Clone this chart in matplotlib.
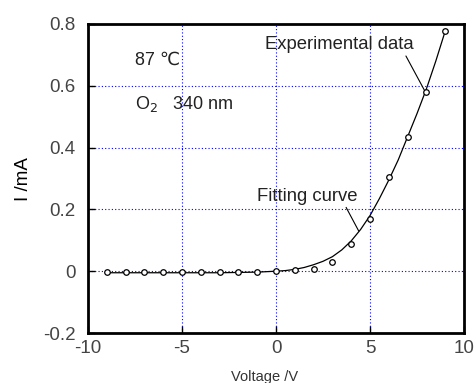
import matplotlib
matplotlib.use("Agg")
import matplotlib.pyplot as plt

plt.rcParams['font.family'] = ['Liberation Sans', 'DejaVu Sans']

# Experimental data
exp_v = [-9, -8, -7, -6, -5, -4, -3, -2, -1, 0, 1, 2, 3, 4, 5, 6, 7, 8, 9]
exp_i = [-0.004, -0.004, -0.003, -0.002, -0.002, -0.002, -0.002, -0.002, -0.002, 0.0,
         0.003, 0.008, 0.029, 0.087, 0.17, 0.305, 0.433, 0.58, 0.777]

# Fitting curve
fit_v = [-9, -8, -7, -6, -5, -4, -3, -2, -1, 0, 0.5, 1, 1.5, 2, 2.5, 3, 3.5, 4, 4.5,
         5, 5.5, 6, 6.5, 7, 7.5, 8, 8.5, 9]
fit_i = [-0.005, -0.005, -0.005, -0.005, -0.005, -0.005, -0.005, -0.004, -0.003, 0.0, 0.002,
         0.006, 0.012, 0.021, 0.032, 0.047, 0.069, 0.098, 0.135, 0.18, 0.235, 0.295,
         0.36, 0.435, 0.51, 0.59, 0.68, 0.777]

xticks = [-10, -5, 0, 5, 10]
yticks = [-0.2, 0, 0.2, 0.4, 0.6, 0.8]
xticklabels = ['-10', '-5', '0', '5', '10']
yticklabels = ['-0.2', '0', '0.2', '0.4', '0.6', '0.8']

fig = plt.figure(figsize=(4.75, 3.83), dpi=100)
ax = fig.add_axes([88/475, 1-333/383, (464-88)/475, (333-24)/383])

ax.plot(fit_v, fit_i, color='black', lw=0.9)
ax.plot(exp_v, exp_i, linestyle='none', marker='o', ms=4, mfc='white', mec='black', mew=0.9)

ax.set_xlim(-10, 10)
ax.set_ylim(-0.2, 0.8)
ax.set_xticks(xticks)
ax.set_xticklabels(xticklabels)
ax.set_yticks(yticks)
ax.set_yticklabels(yticklabels)
ax.tick_params(direction='in', length=5, width=1, labelsize=13.5, colors='black',
               labelcolor='#444444')
ax.tick_params(axis='x', pad=5)
ax.tick_params(axis='y', pad=9)

for g in [-5, 0, 5]:
    ax.axvline(g, color='blue', linestyle=(0, (1, 2)), lw=0.8, zorder=0)
for g in [0, 0.2, 0.4, 0.6]:
    ax.axhline(g, color='blue', linestyle=(0, (1, 2)), lw=0.8, zorder=0)

for s in ax.spines.values():
    s.set_linewidth(2)

fig.text(265/475, 1-377/383, 'Voltage /V', fontsize=10.5, color='#333333', ha='center', va='center')
fig.text(24/475, 1-179/383, 'I /mA', fontsize=13.5, color='black', rotation=90,
         ha='center', va='center')

ax.text(-7.5, 0.683, '87 ℃', fontsize=13, color='#222222', va='center', ha='left')
ax.text(-7.5, 0.54, 'O$_2$   340 nm', fontsize=13, color='#222222', va='center', ha='left')

ax.annotate('Experimental data', xy=(7.9, 0.585), xytext=(-0.6, 0.733),
            fontsize=13.3, color='#222222', ha='left', va='center',
            arrowprops=dict(arrowstyle='-', color='black', lw=0.8, shrinkA=0, shrinkB=0,
                            relpos=(0.94, 0.0)))
ax.annotate('Fitting curve', xy=(4.4, 0.13), xytext=(-1.0, 0.243),
            fontsize=13.3, color='#222222', ha='left', va='center',
            arrowprops=dict(arrowstyle='-', color='black', lw=0.8, shrinkA=0, shrinkB=0,
                            relpos=(0.87, 0.0)))

fig.savefig('out.png', dpi=100, facecolor='white')
